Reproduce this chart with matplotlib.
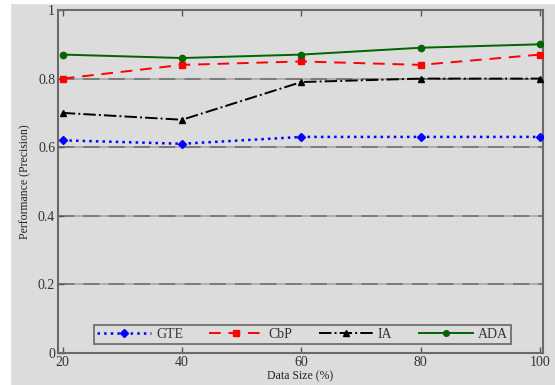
import matplotlib
matplotlib.use("Agg")
import matplotlib.pyplot as plt
from matplotlib.patches import Rectangle

data_size = [20, 40, 60, 80, 100]
gte = [0.62, 0.61, 0.63, 0.63, 0.63]
cbp = [0.80, 0.84, 0.85, 0.84, 0.87]
ia = [0.70, 0.68, 0.79, 0.80, 0.80]
ada = [0.87, 0.86, 0.87, 0.89, 0.90]
y_ticks = [0, 0.2, 0.4, 0.6, 0.8, 1.0]
y_tick_labels = ["0", "0.2", "0.4", "0.6", "0.8", "1"]

plt.rcParams['font.family'] = ['Liberation Serif', 'DejaVu Serif']

bg = '#dcdcdc'
fig = plt.figure(figsize=(5.55, 3.85), dpi=100)
fig.patch.set_facecolor(bg)
fig.add_artist(Rectangle((0, 0), 10/555, 1, transform=fig.transFigure, color='white', zorder=-1))
fig.add_artist(Rectangle((0, 1 - 3/385), 1, 3/385, transform=fig.transFigure, color='white', zorder=-1))

ax = fig.add_axes([58/555, 32/385, 485/555, 343/385])
ax.set_facecolor(bg)

for y in y_ticks[1:]:
    ax.axhline(y, color='#ababab', lw=1.3, ls='-', zorder=1)
    ax.axhline(y, color='#777777', lw=1.3, ls=(0, (9, 5)), zorder=1)

ax.plot(data_size, gte, color='#0000ff', ls=':', lw=1.8, marker='D', ms=4.5, label='GTE', zorder=3)
ax.plot(data_size, cbp, color='#ff0000', ls=(0, (6, 4)), lw=1.4, marker='s', ms=4.5, label='CbP', zorder=3)
ax.plot(data_size, ia, color='black', ls='-.', lw=1.4, marker='^', ms=5, label='IA', zorder=3)
ax.plot(data_size, ada, color='#006400', ls='-', lw=1.4, marker='o', ms=4.5, label='ADA', zorder=3)

ax.set_xlim(19.2, 100.5)
ax.set_ylim(0, 1)
ax.set_xticks(data_size)
ax.set_yticks(y_ticks)
ax.set_yticklabels(y_tick_labels)
ax.tick_params(direction='in', length=4, width=1, colors='#555555', labelcolor='#333333',
               labelsize=10, top=True, right=False, pad=2)
for s in ax.spines.values():
    s.set_color('#6a6a6a')
    s.set_linewidth(1.5)

ax.set_xlabel('Data Size (%)', fontsize=8.5, color='#222222', labelpad=1)
ax.set_ylabel('Performance (Precision)', fontsize=8.5, color='#222222', labelpad=5)

leg = ax.legend(loc='lower center', ncol=4, fontsize=10, frameon=True, fancybox=False,
                bbox_to_anchor=(0.504, 0.006), handlelength=3.9, columnspacing=1.9,
                borderpad=0.2, handletextpad=0.36, markerscale=0.9)
leg.get_frame().set_facecolor(bg)
leg.get_frame().set_edgecolor('#555555')
leg.get_frame().set_linewidth(1.3)
for t in leg.get_texts():
    t.set_color('#333333')

fig.savefig('out.png', dpi=100, facecolor=fig.get_facecolor())
